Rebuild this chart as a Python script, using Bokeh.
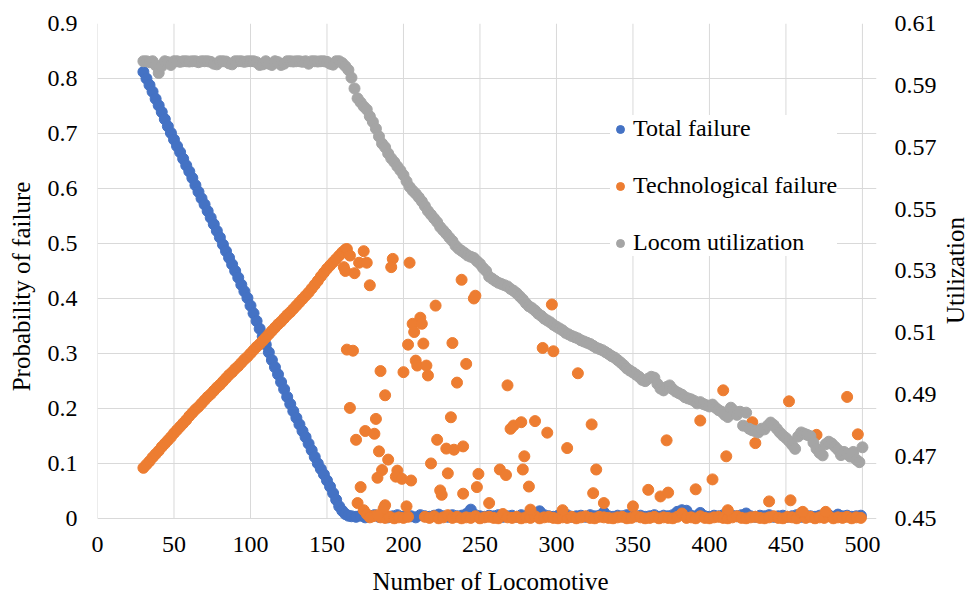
import math
from bokeh.plotting import figure
from bokeh.models import (Range1d, LinearAxis, ColumnDataSource, Legend, LegendItem,
                          FixedTicker, Label)
from bokeh.embed import file_html
from bokeh.resources import INLINE

FONT = "Liberation Serif"

# ---------------- data ----------------
x_ticks = [0, 50, 100, 150, 200, 250, 300, 350, 400, 450, 500]
left_ticks = [0, 0.1, 0.2, 0.3, 0.4, 0.5, 0.6, 0.7, 0.8, 0.9]
right_ticks = [0.45, 0.47, 0.49, 0.51, 0.53, 0.55, 0.57, 0.59, 0.61]

blue_line_x = list(range(30, 165, 2))
blue_line = [0.812, 0.800, 0.788, 0.776, 0.763, 0.751, 0.739, 0.726, 0.713, 0.701,
             0.689, 0.677, 0.666, 0.654, 0.642, 0.631, 0.619, 0.606, 0.594, 0.582,
             0.571, 0.559, 0.547, 0.535, 0.523, 0.511, 0.498, 0.486, 0.474, 0.462,
             0.450, 0.438, 0.425, 0.413, 0.401, 0.387, 0.373, 0.359, 0.345, 0.331,
             0.316, 0.302, 0.288, 0.275, 0.262, 0.248, 0.235, 0.221, 0.208, 0.195,
             0.183, 0.171, 0.159, 0.148, 0.136, 0.124, 0.112, 0.100, 0.090, 0.080,
             0.069, 0.058, 0.046, 0.034, 0.022, 0.014, 0.008, 0.005]
blue_base_x = list(range(166, 500, 3))
blue_base = [0.004, 0.003, 0.005, 0.002, 0.004, 0.006, 0.003, 0.005, 0.002, 0.004,
             0.006, 0.003, 0.005, 0.004, 0.002, 0.006, 0.004, 0.003, 0.005, 0.007,
             0.004, 0.003, 0.006, 0.004, 0.005, 0.008, 0.016, 0.006, 0.004, 0.003,
             0.005, 0.004, 0.006, 0.003, 0.004, 0.005, 0.003, 0.006, 0.004, 0.005,
             0.007, 0.013, 0.006, 0.004, 0.003, 0.005, 0.004, 0.006, 0.003, 0.004,
             0.005, 0.003, 0.006, 0.004, 0.005, 0.011, 0.004, 0.003, 0.005, 0.004,
             0.006, 0.003, 0.004, 0.005, 0.003, 0.004, 0.006, 0.003, 0.005, 0.004,
             0.006, 0.012, 0.015, 0.014, 0.005, 0.004, 0.010, 0.004, 0.003, 0.005,
             0.004, 0.006, 0.003, 0.005, 0.004, 0.006, 0.009, 0.004, 0.003, 0.005,
             0.004, 0.006, 0.003, 0.004, 0.005, 0.003, 0.004, 0.006, 0.003, 0.005,
             0.004, 0.003, 0.005, 0.004, 0.006, 0.003, 0.007, 0.004, 0.005, 0.003,
             0.004, 0.005]

orange_line_x = list(range(30, 163, 2))
orange_line = [0.092, 0.098, 0.104, 0.111, 0.117, 0.123, 0.130, 0.136, 0.142, 0.148,
               0.155, 0.161, 0.167, 0.173, 0.179, 0.186, 0.192, 0.198, 0.203, 0.209,
               0.215, 0.221, 0.226, 0.232, 0.238, 0.243, 0.249, 0.255, 0.261, 0.266,
               0.272, 0.277, 0.283, 0.289, 0.294, 0.300, 0.306, 0.312, 0.317, 0.323,
               0.329, 0.335, 0.341, 0.347, 0.353, 0.358, 0.364, 0.370, 0.375, 0.381,
               0.387, 0.393, 0.399, 0.405, 0.411, 0.418, 0.425, 0.432, 0.440, 0.447,
               0.454, 0.460, 0.466, 0.472, 0.478, 0.484, 0.489]
orange_base_a_x = list(range(185, 204, 3))
orange_base_a = [0.002, 0.001, 0.003, 0.000, 0.002, 0.001, 0.003]
orange_base_b_x = list(range(214, 500, 3))
orange_base_b = [0.003, 0.001, 0.004, 0.000, 0.002, 0.006, 0.001, 0.003, 0.000, 0.002,
                 0.001, 0.004, 0.000, 0.002, 0.003, 0.001, 0.000, 0.008, 0.002, 0.001,
                 0.003, 0.000, 0.002, 0.001, 0.004, 0.000, 0.002, 0.003, 0.001, 0.000,
                 0.002, 0.001, 0.003, 0.000, 0.002, 0.004, 0.001, 0.000, 0.003, 0.002,
                 0.001, 0.000, 0.002, 0.003, 0.000, 0.001, 0.004, 0.002, 0.000, 0.001,
                 0.003, 0.000, 0.002, 0.001, 0.000, 0.003, 0.009, 0.001, 0.002, 0.000,
                 0.004, 0.001, 0.000, 0.002, 0.003, 0.001, 0.000, 0.002, 0.004, 0.001,
                 0.000, 0.002, 0.003, 0.001, 0.000, 0.002, 0.004, 0.001, 0.000, 0.003,
                 0.002, 0.000, 0.010, 0.001, 0.003, 0.000, 0.002, 0.001, 0.004, 0.000,
                 0.002, 0.001, 0.003, 0.000, 0.002, 0.001]
orange_sc_x = [163, 165, 174, 161, 162, 168, 171, 176, 178, 193,
               192, 204, 238, 246, 247, 221, 211, 206, 212, 207,
               203, 213, 232, 163, 167, 185, 200, 208, 209, 215,
               216, 241, 235, 188, 165, 182, 231, 175, 181, 169,
               184, 190, 222, 228, 233, 239, 218, 186, 183, 196,
               195, 199, 205, 229, 249, 172, 224, 225, 239, 248,
               170, 188, 187, 202, 174, 180, 176, 178, 183,
               268, 270, 272, 277, 286, 294, 323, 307, 279, 263,
               267, 278, 282, 326, 324, 331, 256, 283, 304, 297,
               291, 298, 314,
               350, 360, 368, 373, 372, 391, 394, 402, 409, 411,
               412, 428, 430, 439, 452, 453, 470, 490, 497, 461, 476]
orange_sc = [0.490, 0.478, 0.486, 0.457, 0.450, 0.446, 0.465, 0.465, 0.424, 0.472,
             0.457, 0.465, 0.434, 0.400, 0.405, 0.387, 0.365, 0.354, 0.354, 0.339,
             0.316, 0.318, 0.319, 0.307, 0.305, 0.268, 0.266, 0.287, 0.278, 0.278,
             0.260, 0.281, 0.247, 0.224, 0.201, 0.181, 0.184, 0.159, 0.154, 0.143,
             0.122, 0.107, 0.143, 0.127, 0.125, 0.131, 0.100, 0.088, 0.074, 0.087,
             0.076, 0.072, 0.069, 0.082, 0.081, 0.057, 0.051, 0.043, 0.045, 0.057,
             0.028, 0.024, 0.018, 0.022, 0.015, 0.004, 0.008, 0.002, 0.006,
             0.242, 0.163, 0.169, 0.175, 0.177, 0.156, 0.171, 0.128, 0.113, 0.089,
             0.079, 0.089, 0.058, 0.089, 0.046, 0.028, 0.028, 0.016, 0.015, 0.389,
             0.310, 0.304, 0.264,
             0.022, 0.052, 0.040, 0.047, 0.142, 0.053, 0.178, 0.071, 0.233, 0.113,
             0.015, 0.175, 0.137, 0.031, 0.213, 0.033, 0.152, 0.221, 0.153, 0.012, 0.012]

gray_x = list(range(30, 501, 2))
gray = [0.5978, 0.5978, 0.5975, 0.5978, 0.5965, 0.5940, 0.5962, 0.5978, 0.5975, 0.5966,
        0.5978, 0.5978, 0.5976, 0.5978, 0.5978, 0.5977, 0.5978, 0.5978, 0.5975, 0.5978,
        0.5978, 0.5978, 0.5976, 0.5970, 0.5968, 0.5978, 0.5978, 0.5977, 0.5971, 0.5968,
        0.5978, 0.5978, 0.5978, 0.5976, 0.5978, 0.5978, 0.5978, 0.5975, 0.5966, 0.5968,
        0.5978, 0.5970, 0.5966, 0.5978, 0.5975, 0.5966, 0.5970, 0.5978, 0.5978, 0.5977,
        0.5978, 0.5978, 0.5976, 0.5978, 0.5970, 0.5978, 0.5978, 0.5977, 0.5978, 0.5978,
        0.5976, 0.5970, 0.5967, 0.5978,
        0.5978, 0.5972, 0.5962, 0.5950, 0.5925, 0.5890, 0.5858, 0.5845, 0.5832, 0.5822,
        0.5800, 0.5782, 0.5760, 0.5735, 0.5712, 0.5700, 0.5680, 0.5664, 0.5652, 0.5638,
        0.5625, 0.5610, 0.5590, 0.5572, 0.5560, 0.5550, 0.5538, 0.5525, 0.5510, 0.5494,
        0.5482, 0.5470, 0.5458, 0.5442, 0.5431, 0.5420, 0.5408, 0.5397, 0.5382, 0.5372,
        0.5365, 0.5358, 0.5350, 0.5346, 0.5342, 0.5332, 0.5323,
        0.5310, 0.5300, 0.5282, 0.5275, 0.5268, 0.5262, 0.5258, 0.5254, 0.5250, 0.5242,
        0.5236, 0.5228, 0.5218, 0.5208, 0.5196, 0.5186, 0.5180, 0.5172, 0.5162, 0.5155,
        0.5146, 0.5140, 0.5134, 0.5126, 0.5120, 0.5114, 0.5108, 0.5100, 0.5095, 0.5090,
        0.5086, 0.5082, 0.5076, 0.5072, 0.5068, 0.5064, 0.5058, 0.5052, 0.5048, 0.5044,
        0.5038, 0.5032, 0.5025, 0.5020, 0.5012, 0.5004, 0.4995, 0.4985, 0.4978, 0.4972,
        0.4965, 0.4958, 0.4948, 0.4944, 0.4952, 0.4958, 0.4955, 0.4935, 0.4920, 0.4914,
        0.4925, 0.4930, 0.4918, 0.4910, 0.4905, 0.4900, 0.4892, 0.4888, 0.4885, 0.4880,
        0.4872, 0.4876, 0.4870, 0.4866, 0.4862, 0.4868, 0.4858, 0.4850, 0.4845, 0.4835,
        0.4828, 0.4858, 0.4848, 0.4835, 0.4845, 0.4800, 0.4842, 0.4790, 0.4785, 0.4782,
        0.4778, 0.4790, 0.4788, 0.4800, 0.4810, 0.4802, 0.4790, 0.4778, 0.4768, 0.4760,
        0.4750, 0.4738, 0.4725, 0.4765, 0.4778, 0.4774, 0.4770, 0.4766, 0.4745, 0.4725,
        0.4712, 0.4704, 0.4740, 0.4748, 0.4742, 0.4732, 0.4722, 0.4705, 0.4715, 0.4709,
        0.4700, 0.4715, 0.4690, 0.4682, 0.4730]

# ---------------- figure ----------------
Y0 = -0.011  # small room below zero so markers on the baseline are not clipped
p = figure(width=970, height=597, output_backend="svg", toolbar_location=None,
           x_range=Range1d(0, 509.2), y_range=Range1d(Y0, 0.9),
           min_border_left=97, min_border_right=94, min_border_top=23,
           min_border_bottom=73)
p.extra_y_ranges = {"right": Range1d(0.45 + Y0 * 0.16 / 0.9, 0.61)}
p.outline_line_color = None

GRID = "#D9D9D9"
p.xgrid.visible = False
p.ygrid.ticker = FixedTicker(ticks=left_ticks)
p.ygrid.grid_line_color = GRID
p.segment(x0=x_ticks, y0=[left_ticks[0]] * len(x_ticks), x1=x_ticks,
          y1=[left_ticks[-1]] * len(x_ticks), line_color=GRID, line_width=1)


def style_axis(ax, standoff):
    ax.axis_line_color = None
    ax.major_tick_line_color = None
    ax.minor_tick_line_color = None
    ax.major_tick_out = 0
    ax.major_tick_in = 0
    ax.minor_tick_out = 0
    ax.minor_tick_in = 0
    ax.major_label_text_font = FONT
    ax.major_label_text_font_size = "24px"
    ax.major_label_text_color = "#000000"
    ax.major_label_standoff = standoff


def title_label(text, x, y, angle):
    return Label(x=x, y=y, x_units="screen", y_units="screen", text=text, angle=angle,
                 text_align="center", text_baseline="middle", text_font=FONT,
                 text_font_size="25px", text_color="#000000")


xa = p.xaxis[0]
xa.ticker = FixedTicker(ticks=x_ticks)
style_axis(xa, 12)

ya = p.yaxis[0]
ya.ticker = FixedTicker(ticks=left_ticks)
ya.major_label_overrides = {0: "0"}
style_axis(ya, 20)

ra = LinearAxis(y_range_name="right", ticker=FixedTicker(ticks=right_ticks))
style_axis(ra, 18)
p.add_layout(ra, "right")

# axis titles, each placed in its side panel outside the axis
p.add_layout(title_label("Number of Locomotive", 393, 0, 0), "below")
p.add_layout(title_label("Probability of failure", 4, 238, math.pi / 2), "left")
p.add_layout(title_label("Utilization", 16, 254, math.pi / 2), "right")

src_b = ColumnDataSource(dict(x=blue_line_x + blue_base_x, y=blue_line + blue_base))
src_o = ColumnDataSource(dict(
    x=orange_line_x + orange_base_a_x + orange_base_b_x + orange_sc_x,
    y=orange_line + orange_base_a + orange_base_b + orange_sc))
src_g = ColumnDataSource(dict(x=gray_x, y=gray))

MS = 11
rb = p.scatter("x", "y", source=src_b, size=MS, fill_color="#4472C4", line_color="#4472C4")
ro = p.scatter("x", "y", source=src_o, size=MS, fill_color="#ED7D31", line_color="#ED7D31")
rg = p.scatter("x", "y", source=src_g, size=MS, fill_color="#A5A5A5", line_color="#A5A5A5",
               y_range_name="right")

legend = Legend(items=[LegendItem(label="Total failure", renderers=[rb]),
                       LegendItem(label="Technological failure", renderers=[ro]),
                       LegendItem(label="Locom utilization", renderers=[rg])],
                location=(513, 268), orientation="vertical",
                label_text_font=FONT, label_text_font_size="24px",
                label_text_color="#000000", glyph_width=20, glyph_height=20,
                label_height=20, label_standoff=3, spacing=30, padding=18, margin=0,
                border_line_color=None, background_fill_color="white",
                background_fill_alpha=1.0)
p.add_layout(legend)

open("out.html", "w").write(file_html(p, INLINE))
